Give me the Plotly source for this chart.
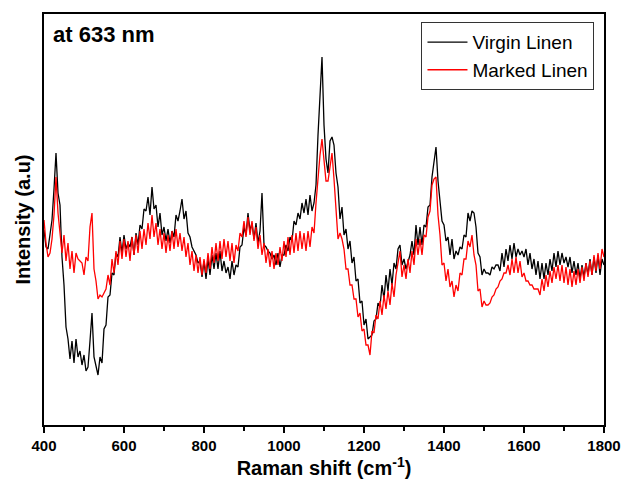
import plotly.graph_objects as go

raman_shift = list(range(400, 1805, 5))

virgin_linen = [
    195, 178, 176, 192, 205, 236, 272, 232, 220, 168, 140, 98, 86, 66, 84, 62, 86, 68, 74, 60,
    70, 54, 58, 84, 112, 68, 60, 50, 68, 62, 96, 100, 128, 130, 152, 150, 172, 168, 188, 172,
    190, 176, 182, 178, 188, 170, 192, 180, 200, 196, 216, 214, 228, 210, 238, 216, 220, 198, 212, 190,
    198, 184, 196, 182, 194, 188, 210, 204, 214, 226, 206, 214, 192, 188, 178, 174, 170, 162, 164, 148,
    164, 146, 166, 150, 170, 156, 172, 156, 174, 154, 164, 152, 158, 146, 164, 150, 160, 158, 178, 180,
    198, 190, 212, 194, 202, 186, 202, 182, 194, 232, 180, 178, 174, 172, 166, 170, 160, 172, 158, 170,
    170, 180, 174, 188, 184, 204, 200, 212, 206, 222, 212, 226, 210, 230, 214, 222, 240, 290, 330, 368,
    300, 266, 252, 284, 288, 280, 252, 238, 206, 218, 190, 196, 176, 184, 162, 168, 144, 146, 122, 124,
    100, 106, 86, 88, 90, 104, 106, 122, 118, 140, 126, 150, 134, 156, 140, 162, 156, 176, 180, 160,
    166, 156, 164, 170, 184, 170, 200, 180, 198, 180, 200, 198, 218, 220, 248, 262, 278, 244, 226, 204,
    200, 184, 188, 170, 186, 166, 174, 170, 178, 176, 190, 188, 212, 204, 214, 212, 198, 172, 168, 150,
    156, 152, 152, 150, 158, 156, 160, 160, 154, 172, 158, 176, 164, 180, 166, 182, 168, 176, 170, 174,
    168, 176, 160, 172, 156, 166, 150, 164, 146, 162, 146, 162, 150, 166, 154, 172, 158, 174, 160, 172,
    162, 168, 158, 168, 152, 164, 150, 162, 146, 160, 148, 162, 150, 166, 150, 168, 152, 170, 150, 166,
    160,
]

marked_linen = [
    205, 182, 168, 172, 186, 210, 248, 212, 192, 172, 190, 164, 182, 156, 174, 152, 172, 166, 164, 162,
    150, 168, 164, 198, 212, 156, 144, 126, 130, 128, 132, 136, 150, 140, 166, 152, 174, 160, 184, 166,
    186, 168, 184, 164, 188, 170, 190, 172, 194, 176, 196, 180, 202, 186, 210, 188, 202, 180, 196, 176,
    192, 172, 190, 174, 194, 176, 196, 178, 192, 174, 188, 168, 182, 160, 174, 154, 170, 152, 168, 150,
    166, 152, 172, 156, 178, 162, 182, 164, 184, 166, 186, 168, 184, 164, 182, 162, 180, 174, 192, 188,
    204, 188, 208, 190, 204, 184, 198, 176, 190, 170, 182, 162, 176, 158, 174, 156, 172, 160, 178, 164,
    184, 168, 188, 170, 190, 172, 192, 174, 194, 176, 192, 174, 194, 178, 198, 192, 222, 250, 270, 286,
    262, 244, 244, 258, 272, 246, 214, 186, 192, 186, 176, 156, 156, 140, 140, 126, 126, 108, 112, 94,
    96, 80, 80, 70, 94, 92, 110, 106, 124, 110, 130, 116, 134, 120, 142, 128, 150, 162, 174, 148,
    160, 146, 166, 152, 174, 160, 186, 170, 186, 170, 190, 188, 208, 214, 240, 246, 248, 210, 190, 160,
    162, 144, 156, 138, 144, 128, 140, 134, 152, 150, 166, 166, 184, 178, 190, 170, 160, 134, 136, 118,
    124, 120, 120, 122, 128, 130, 136, 138, 144, 146, 152, 152, 160, 150, 166, 152, 168, 152, 164, 148,
    152, 144, 144, 140, 140, 136, 136, 136, 130, 146, 134, 150, 138, 154, 142, 158, 146, 160, 144, 160,
    142, 158, 140, 156, 138, 154, 140, 156, 142, 158, 144, 162, 148, 164, 150, 170, 154, 172, 156, 176,
    168,
]

x_ticks = [400, 600, 800, 1000, 1200, 1400, 1600, 1800]

FONT = "Liberation Sans, Arial, sans-serif"

fig = go.Figure()
fig.add_trace(go.Scatter(x=raman_shift[:len(virgin_linen)], y=virgin_linen, mode="lines",
                         name="Virgin Linen", line=dict(color="#000000", width=1.3)))
fig.add_trace(go.Scatter(x=raman_shift[:len(marked_linen)], y=marked_linen, mode="lines",
                         name="Marked Linen", line=dict(color="#ff0000", width=1.3)))

fig.update_layout(
    width=624, height=483,
    margin=dict(l=44, r=20, t=14, b=58),
    paper_bgcolor="white", plot_bgcolor="white",
    font=dict(family=FONT, color="black"),
    showlegend=True,
    legend=dict(x=0.983, y=0.98, xanchor="right", yanchor="top",
                bgcolor="white", bordercolor="#333333", borderwidth=1,
                font=dict(family=FONT, size=19, color="black"),
                tracegroupgap=0, itemwidth=40),
    xaxis=dict(range=[400, 1800], tickmode="array", tickvals=x_ticks,
               ticks="outside", ticklen=6, tickwidth=1.5, tickcolor="black",
               minor=dict(dtick=100, ticks="outside", ticklen=4, tickwidth=1.5, tickcolor="black"),
               showline=True, linewidth=1.5, linecolor="black", mirror=True,
               showgrid=False, zeroline=False, automargin=False,
               tickfont=dict(family=FONT, size=15, weight="bold", color="black"),
               title=dict(text="Raman shift (cm<sup>-1</sup>)",
                          font=dict(family=FONT, size=20, weight="bold", color="black"),
                          standoff=4)),
    yaxis=dict(range=[0, 411], showticklabels=False, ticks="",
               showline=True, linewidth=1.5, linecolor="black", mirror=True,
               showgrid=False, zeroline=False, automargin=False,
               title=dict(text="Intensity (a.u)",
                          font=dict(family=FONT, size=20, weight="bold", color="black"),
                          standoff=6)),
    annotations=[dict(text="at 633 nm", xref="paper", yref="paper", x=0.012, y=0.985,
                      xanchor="left", yanchor="top", showarrow=False,
                      font=dict(family=FONT, size=22, weight="bold", color="black"))],
)

fig.write_html("out.html")
